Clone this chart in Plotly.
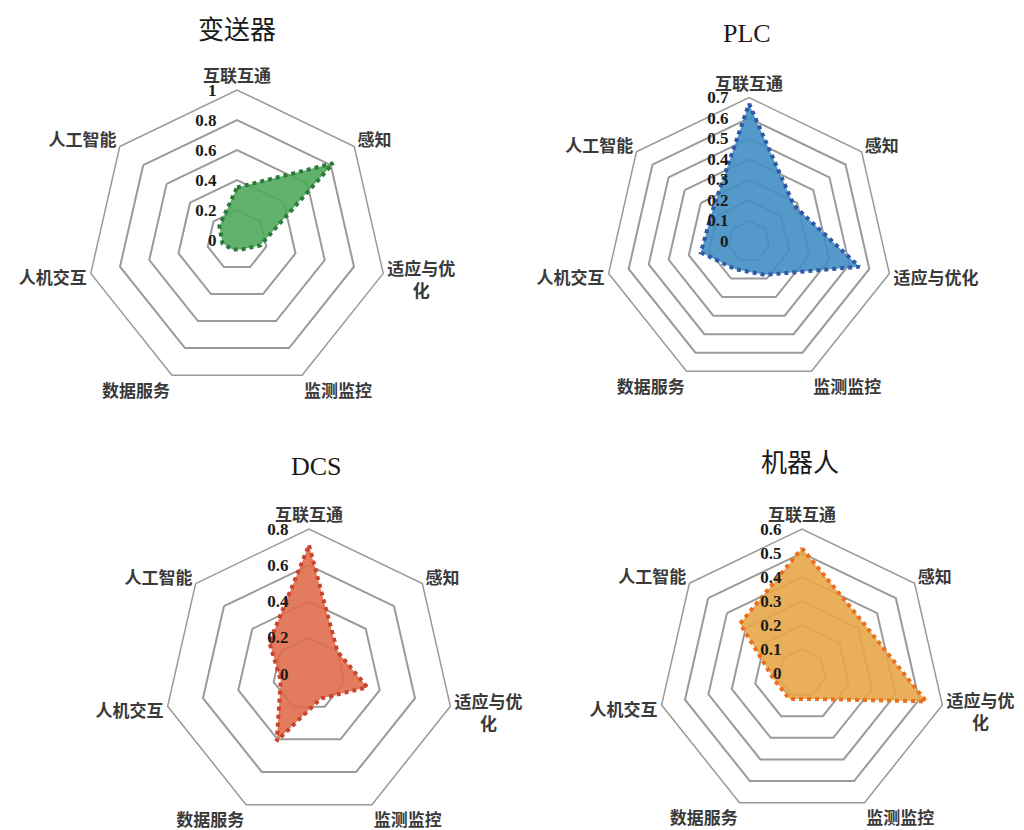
import plotly.graph_objects as go

categories = ["互联互通", "感知", "适应与优化", "监测监控", "数据服务", "人机交互", "人工智能"]
labels_wrapped = ["互联互通", "感知", "适应与优<br>\u3000\u2002化", "监测监控", "数据服务", "人机交互", "人工智能"]
labels_plain = ["互联互通", "感知", "适应与优化", "监测监控", "数据服务", "人机交互", "人工智能"]

titles = ["变送器", "PLC", "DCS", "机器人"]

values_transmitter = [0.35, 0.82, 0.16, 0.07, 0.07, 0.10, 0.15]
values_plc = [0.67, 0.28, 0.55, 0.18, 0.15, 0.24, 0.23]
values_dcs = [0.71, 0.20, 0.33, 0.15, 0.41, 0.16, 0.28]
values_robot = [0.52, 0.33, 0.53, 0.12, 0.12, 0.12, 0.33]

radial_max = [1.0, 0.7, 0.8, 0.6]
radial_step = [0.2, 0.1, 0.2, 0.1]

fill_colors = ["rgba(78,168,92,0.9)", "rgba(66,142,196,0.9)", "rgba(224,110,78,0.9)", "rgba(232,166,72,0.9)"]
line_colors = ["#2b7a3a", "#2d5aa6", "#c9442a", "#ea6f1c"]

all_values = [values_transmitter, values_plc, values_dcs, values_robot]
all_labels = [labels_wrapped, labels_plain, labels_wrapped, labels_wrapped]

# layout geometry (pixels in a 1024x830 page): center x, center y, radius
W, H = 1024, 830
geom = [(237, 240, 150), (749, 241.5, 144), (309, 674, 145), (802, 673, 144)]
title_pos = [(237, 30), (747, 33), (316, 466), (800, 463)]

fig = go.Figure()
layout = dict(
    width=W, height=H,
    margin=dict(l=0, r=0, t=0, b=0),
    paper_bgcolor="white",
    plot_bgcolor="white",
    showlegend=False,
    annotations=[],
)

for i in range(4):
    key = "polar" if i == 0 else f"polar{i+1}"
    vals = all_values[i]
    r = list(vals) + [vals[0]]
    theta = list(categories) + [categories[0]]
    fig.add_trace(go.Scatterpolar(
        r=r, theta=theta, mode="lines", fill="toself",
        fillcolor=fill_colors[i],
        line=dict(color=line_colors[i], width=4, dash="4px,4px"),
        subplot=key, hoverinfo="skip",
    ))
    cx, cy, R = geom[i]
    x0 = max(0, (cx - R) / W)
    x1 = min(1, (cx + R) / W)
    y0 = max(0, 1 - (cy + R) / H)
    y1 = min(1, 1 - (cy - R) / H)
    n = int(round(radial_max[i] / radial_step[i]))
    tv = [round(k * radial_step[i], 2) for k in range(n + 1)]
    tt = [("%g" % v) for v in tv]
    layout[key] = dict(
        domain=dict(x=[x0, x1], y=[y0, y1]),
        gridshape="linear",
        bgcolor="white",
        radialaxis=dict(
            range=[0, radial_max[i]], tickmode="array", tickvals=tv, ticktext=tt,
            angle=90, tickangle=90, side="counterclockwise",
            showline=False, ticks="outside", ticklen=14, tickcolor="rgba(0,0,0,0)",
            showgrid=True, gridcolor="#9a9a9a", gridwidth=1.5,
            tickfont=dict(family="Liberation Serif", size=17, color="#1a1a1a", weight="bold"),
            layer="above traces",
        ),
        angularaxis=dict(
            type="category", direction="clockwise", rotation=90,
            tickmode="array", tickvals=categories, ticktext=all_labels[i],
            showgrid=False, showline=True, linecolor="#9a9a9a", linewidth=1.5,
            ticks="",
            tickfont=dict(family="Noto Sans CJK SC", size=17, color="#3a3a3a", weight="bold"),
            layer="below traces",
        ),
    )
    tx, ty = title_pos[i]
    layout["annotations"].append(dict(
        x=tx / W, y=1 - ty / H, xref="paper", yref="paper",
        text=titles[i], showarrow=False,
        font=dict(family="Liberation Serif, Noto Sans CJK SC", size=26, color="#1a1a1a"),
        xanchor="center", yanchor="middle",
    ))

fig.update_layout(**layout)
fig.write_html("out.html")
